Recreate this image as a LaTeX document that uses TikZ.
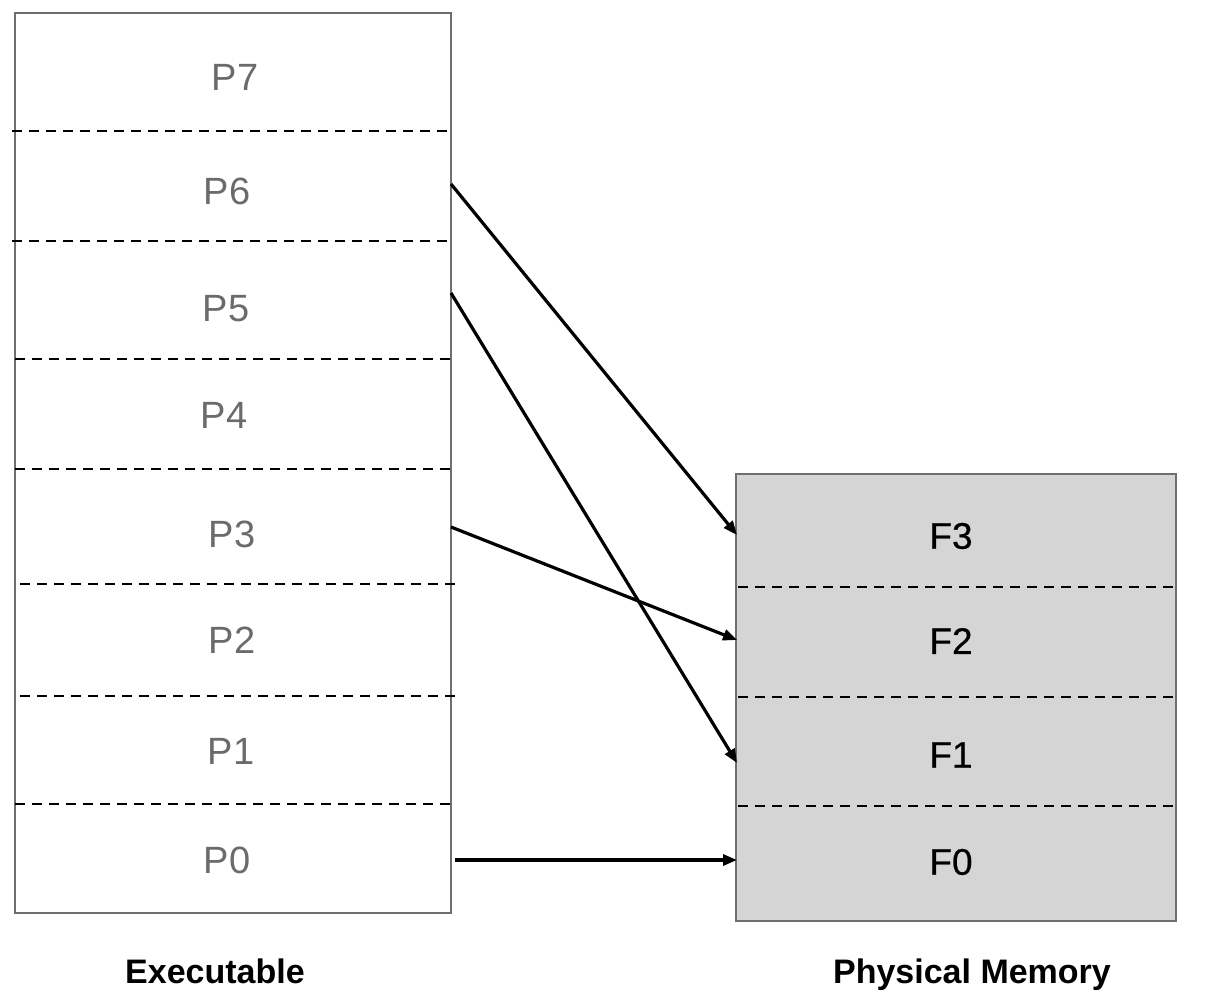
\documentclass[tikz,border=0pt]{standalone}
\usepackage{fontspec}
\setmainfont{Liberation Sans}
\newfontfamily\medfont[FakeBold=0.6]{Liberation Sans}
\usetikzlibrary{arrows.meta}
\definecolor{pgray}{HTML}{6B6B6B}
\definecolor{boxedge}{HTML}{6E6E6E}
\definecolor{memfill}{HTML}{D5D5D5}
\begin{document}
\begin{tikzpicture}[x=1pt,y=-1pt,
  pbox/.style={draw=boxedge,line width=2.2pt,fill=white},
  mbox/.style={draw=boxedge,line width=2.2pt,fill=memfill},
  sep/.style={line width=2.6pt,dash pattern=on 10pt off 7pt,black},
  plabel/.style={text=pgray,font=\fontsize{38}{38}\selectfont,anchor=center},
  flabel/.style={text=black,font=\medfont\fontsize{37}{37}\selectfont,anchor=center},
  title/.style={text=black,font=\bfseries\fontsize{34}{34}\selectfont,anchor=base},
  map/.style={line width=3.2pt,-{Triangle[length=14pt,width=11pt]}}]
\useasboundingbox (0,0) rectangle (1206,1000);
% executable box
\draw[pbox] (15,13) rectangle (451,913);
\foreach \y/\a/\b in {131/12/450,241/12/450,359/15/450,469/15/452,584/20/455,696/20/455,804/15/450}
  \draw[sep] (\a,\y) -- (\b,\y);
\node[plabel] (p7) at (235,77) {P7};
\node[plabel] (p6) at (227,191) {P6};
\node[plabel] (p5) at (226,309) {P5};
\node[plabel] (p4) at (224,415) {P4};
\node[plabel] (p3) at (232,534) {P3};
\node[plabel] (p2) at (232,640) {P2};
\node[plabel] (p1) at (231,751) {P1};
\node[plabel] (p0) at (227,860) {P0};
% physical memory box
\draw[mbox] (736,474) rectangle (1176,921);
\foreach \y in {587,697,806}
  \draw[sep] (738,\y) -- (1174,\y);
\node[flabel] (f3) at (951,536) {F3};
\node[flabel] (f2) at (951,641) {F2};
\node[flabel] (f1) at (951,755) {F1};
\node[flabel] (f0) at (951,862) {F0};
% titles
\node[title] (exe) at (215,983) {Executable};
\node[title] (mem) at (972,983) {Physical Memory};
% connector ends
\coordinate (s6) at (451,184);
\coordinate (s5) at (451,293);
\coordinate (s3) at (451,527);
\coordinate (s0) at (455,860);
\coordinate (t3) at (737,535);
\coordinate (t1) at (737,763);
\coordinate (t2) at (737,640);
\coordinate (t0) at (737,860);
\draw[map] (s6) -- (t3);
\draw[map] (s5) -- (t1);
\draw[map] (s3) -- (t2);
\draw[map] (s0) -- (t0);
\end{tikzpicture}
\end{document}
